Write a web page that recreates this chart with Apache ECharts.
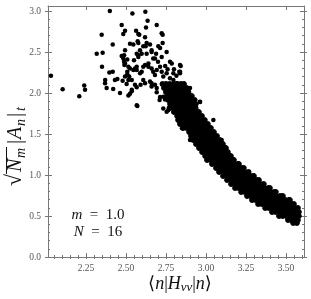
<!DOCTYPE html>
<html><head><meta charset="utf-8">
<script src="https://cdn.jsdelivr.net/npm/echarts@6/dist/echarts.min.js"></script>
<style>html,body{margin:0;padding:0;background:#fff}#c{width:311px;height:299px}</style>
</head><body><div id="c"></div>
<script>
// ---- axis ticks / labels ----
const xMajor = [2.25, 2.50, 2.75, 3.00, 3.25, 3.50];
const xMinor = [2.05,2.10,2.15,2.20,2.30,2.35,2.40,2.45,2.55,2.60,2.65,2.70,2.80,2.85,2.90,2.95,3.05,3.10,3.15,3.20,3.30,3.35,3.40,3.45,3.55,3.60];
const yMajor = [0.0, 0.5, 1.0, 1.5, 2.0, 2.5, 3.0];
const yMinor = [0.1,0.2,0.3,0.4,0.6,0.7,0.8,0.9,1.1,1.2,1.3,1.4,1.6,1.7,1.8,1.9,2.1,2.2,2.3,2.4,2.6,2.7,2.8,2.9];

// ---- scattered points (x, y) ----
const sparsePoints = [
[2.031,2.21],[2.104,2.045],[2.208,1.96],[2.239,2.09],[2.244,2.04],
[2.399,3.00],[2.348,2.71],[2.317,2.48],[2.354,2.49],[2.35,2.32],
[2.37,2.16],[2.369,2.12],[2.396,2.25],[2.417,2.26],[2.417,2.59],[2.42,2.05],[2.431,2.16],[2.446,2.17],[2.379,2.06],
[2.473,2.83],[2.494,2.76],[2.483,2.72],[2.525,2.60],[2.494,2.52],[2.488,2.46],[2.488,2.38],[2.49,2.34],[2.508,2.41],
[2.515,2.32],[2.525,2.30],[2.508,2.23],[2.494,2.20],[2.479,2.15],[2.504,2.11],[2.536,2.16],[2.525,1.99],[2.515,1.97],
[2.473,2.45],[2.508,2.26],[2.52,2.20],[2.4625,2.00],[2.536,2.04],
[2.54,2.97],[2.563,2.76],[2.573,2.63],[2.577,2.46],[2.567,2.28],[2.567,2.07],[2.556,2.10],[2.583,2.71],[2.567,1.85],
[2.621,2.99],[2.635,2.88],[2.692,2.83],[2.629,2.61],[2.623,2.57],[2.598,2.48],[2.66,2.52],[2.688,2.48],[2.64,2.32],
[2.681,2.42],[2.692,2.01],[2.66,2.12],[2.591,2.10],[2.588,2.24],[2.608,2.16],
[2.625,2.80],[2.577,2.72],[2.723,2.73],[2.729,2.71],[2.619,2.68],[2.577,2.61],[2.608,2.57],[2.65,2.59],[2.702,2.57],
[2.713,2.55],[2.729,2.61],[2.567,2.48],[2.577,2.44],[2.629,2.48],[2.66,2.50],[2.67,2.42],[2.723,2.44],[2.775,2.38],
[2.786,2.36],[2.842,2.33],[2.546,2.28],[2.556,2.30],[2.598,2.26],[2.608,2.32],[2.619,2.34],[2.64,2.36],[2.66,2.30],
[2.67,2.26],[2.681,2.22],[2.692,2.28],[2.713,2.32],[2.723,2.26],[2.733,2.20],[2.754,2.24],[2.775,2.18],[2.796,2.16],
[2.817,2.12],[2.838,2.10],[2.515,2.16],[2.619,2.12],[2.65,2.14],[2.66,2.08],[2.681,2.10],[2.692,2.06],[2.536,2.02],
[2.713,1.95],[2.744,1.92],[2.838,2.26],[2.90,2.06],[2.91,1.95],[2.963,1.89],[2.571,1.84],[2.733,1.81],[2.764,1.79],
[2.754,2.50],[2.833,2.26],[2.8375,2.34],[2.796,2.24],[2.8375,2.24],[2.86,1.58],[2.962,1.894],[3.046,1.67],
[3.098,1.427],[2.754,1.77],[2.796,1.77],[2.85,1.57],[2.90,1.427],[2.733,1.955],[2.71,1.915],[2.567,2.32],[2.55,2.40],
[2.546,2.59],[2.5875,2.52],[2.483,2.42],[2.494,2.36],[2.70,2.38],[2.745,2.33],[2.76,2.29],[2.80,2.29],[2.815,2.21]
];

// ---- dense band: one row per y value, x positions of the dots in that row ----
const bandY = [2.110,2.061,2.012,1.963,1.915,1.866,1.817,1.768,1.720,1.671,1.622,1.573,1.524,1.476,1.427,1.378,1.329,1.280,1.232,1.183,1.134,1.085,1.037,0.988,0.939,0.890,0.841,0.793,0.744,0.695,0.646,0.598,0.549,0.500,0.451,0.415];
const bandX = [
[2.728,2.750,2.773,2.798,2.820,2.843,2.862],
[2.738,2.762,2.785,2.808,2.831,2.855,2.879],
[2.750,2.773,2.796,2.819,2.842,2.866,2.890],
[2.757,2.780,2.803,2.826,2.849,2.872,2.895,2.911],
[2.764,2.788,2.811,2.834,2.857,2.880,2.904,2.929],
[2.776,2.799,2.822,2.845,2.868,2.891,2.914,2.936],
[2.772,2.796,2.820,2.843,2.866,2.889,2.912,2.935],
[2.801,2.824,2.847,2.870,2.893,2.916,2.939,2.955],
[2.820,2.843,2.866,2.889,2.912,2.935,2.958,2.974],
[2.826,2.849,2.872,2.895,2.918,2.941,2.964,2.992],
[2.838,2.861,2.884,2.907,2.930,2.953,2.976,2.999,3.011],
[2.857,2.880,2.903,2.926,2.949,2.972,2.995,3.018,3.030],
[2.895,2.918,2.941,2.964,2.987,3.010,3.033,3.049],
[2.907,2.930,2.953,2.976,2.999,3.022,3.045,3.068],
[2.920,2.943,2.966,2.989,3.012,3.035,3.058,3.086],
[2.938,2.961,2.984,3.007,3.030,3.053,3.076,3.099,3.105],
[2.957,2.980,3.003,3.026,3.049,3.072,3.095,3.118,3.124],
[2.976,2.999,3.022,3.045,3.068,3.091,3.114,3.136],
[2.995,3.018,3.041,3.064,3.087,3.110,3.133,3.155],
[3.007,3.030,3.053,3.076,3.099,3.122,3.145,3.168,3.174],
[3.038,3.061,3.084,3.107,3.130,3.153,3.176,3.199,3.205],
[3.063,3.086,3.109,3.132,3.155,3.178,3.201,3.224,3.236],
[3.082,3.105,3.128,3.151,3.174,3.197,3.220,3.243,3.266],
[3.107,3.130,3.153,3.176,3.199,3.222,3.245,3.268,3.291,3.299],
[3.132,3.155,3.178,3.201,3.224,3.247,3.270,3.293,3.316,3.330],
[3.157,3.180,3.203,3.226,3.249,3.272,3.295,3.318,3.341,3.361],
[3.182,3.205,3.228,3.251,3.274,3.297,3.320,3.343,3.366,3.389,3.399],
[3.220,3.243,3.266,3.289,3.312,3.335,3.358,3.381,3.404,3.427,3.436],
[3.257,3.280,3.303,3.326,3.349,3.372,3.395,3.418,3.441,3.464,3.480],
[3.288,3.311,3.334,3.357,3.380,3.403,3.426,3.449,3.472,3.495,3.518,3.524],
[3.326,3.349,3.372,3.395,3.418,3.441,3.464,3.487,3.510,3.533,3.549],
[3.370,3.393,3.416,3.439,3.462,3.485,3.508,3.531,3.554,3.574],
[3.413,3.436,3.459,3.482,3.505,3.528,3.551,3.574,3.580],
[3.457,3.480,3.503,3.526,3.549,3.572,3.580],
[3.513,3.536,3.559,3.574],
[3.545,3.568]
];

const bandPoints = [];
bandY.forEach((y, i) => bandX[i].forEach(x => bandPoints.push([x, y])));

const XMIN = 2.0125, XMAX = 3.6125, YMIN = 0, YMAX = 3.061;
const AX = '#777', LAB = '#555', INK = '#111';
const serif = '"Liberation Serif","DejaVu Serif",serif';

function xAx(pos, opts) {
  return Object.assign({type:'value', position:pos, min:XMIN, max:XMAX, splitLine:{show:false},
    axisLine:{show:false}, axisLabel:{show:false}, axisTick:{show:false}}, opts);
}
function yAx(pos, opts) {
  return Object.assign({type:'value', position:pos, min:YMIN, max:YMAX, splitLine:{show:false},
    axisLine:{show:false}, axisLabel:{show:false}, axisTick:{show:false}}, opts);
}
const line = {show:true, onZero:false, lineStyle:{color:AX, width:1}};
const tk = (vals, inside, len) => ({show:true, inside:inside, length:len, customValues:vals, lineStyle:{color:AX, width:1}});
const it = (t, x, y, size) => ({type:'text', x:x, y:y, style:{text:t, font:'italic '+size+'px '+serif, fill:INK, verticalAlign:'middle'}});
const dot = {color:'#000', opacity:1, borderWidth:1, borderColor:'#000'};
const dotS = {color:'#000', opacity:1, borderWidth:0};

const chart = echarts.init(document.getElementById('c'), null, {renderer:'canvas'});
chart.setOption({
  animation:false,
  backgroundColor:'#fff',
  grid:{left:48, right:7, top:6, bottom:42, containLabel:false},
  xAxis:[
    xAx('bottom', {axisLine:line, axisTick:tk(xMajor,true,4),
      axisLabel:{show:true, customValues:xMajor, formatter:v=>v.toFixed(2), color:LAB, fontFamily:serif, fontSize:9.5, margin:6}}),
    xAx('bottom', {axisTick:tk(xMajor,false,2)}),
    xAx('bottom', {axisTick:tk(xMinor,true,2)}),
    xAx('top', {axisLine:line, axisTick:tk(xMajor,true,4)}),
    xAx('top', {axisTick:tk(xMajor,false,2)}),
    xAx('top', {axisTick:tk(xMinor,true,2)})
  ],
  yAxis:[
    yAx('left', {axisLine:line, axisTick:tk(yMajor,true,4),
      axisLabel:{show:true, customValues:yMajor, formatter:v=>v.toFixed(1), color:LAB, fontFamily:serif, fontSize:9.5, margin:7}}),
    yAx('left', {axisTick:tk(yMajor,false,3)}),
    yAx('left', {axisTick:tk(yMinor,true,2)}),
    yAx('right', {axisLine:line, axisTick:tk(yMajor,true,4)}),
    yAx('right', {axisTick:tk(yMajor,false,3)}),
    yAx('right', {axisTick:tk(yMinor,true,2)})
  ],
  series:[
    {type:'scatter', xAxisIndex:0, yAxisIndex:0, data:bandPoints, symbol:'circle', symbolSize:5, itemStyle:dot, emphasis:{disabled:true}, silent:true},
    {type:'scatter', xAxisIndex:0, yAxisIndex:0, data:sparsePoints, symbol:'circle', symbolSize:4.5, itemStyle:dotS, emphasis:{disabled:true}, silent:true}
  ],
  graphic:[
    {type:'text', x:180, y:284, style:{
      text:'⟨{i|n}|{i|H}{s|νν}|{i|n}⟩', font:'18px '+serif, fill:INK, align:'center', verticalAlign:'middle',
      rich:{i:{fontStyle:'italic', fontSize:18, fontFamily:serif}, s:{fontStyle:'italic', fontSize:13, fontFamily:serif, padding:[8,0,0,0]}}}},
    {type:'group', x:16, y:139, rotation:Math.PI/2, children:[
      {type:'text', x:-47, y:-1, style:{text:'√', font:'22px '+serif, fill:INK, verticalAlign:'middle'}},
      {type:'line', shape:{x1:-35, y1:-9.5, x2:-8, y2:-9.5}, style:{stroke:INK, lineWidth:1}},
      it('N', -33, 0, 20),
      it('m', -19, 5, 14),
      it('|', -6, 0, 20),
      it('A', 0, 0, 20),
      it('n', 13, 5, 14),
      it('|', 21, 0, 20),
      it('t', 28, 5, 14)
    ]},
    {type:'text', x:98, y:215, style:{text:'{i|m}\u2002=\u20021.0', font:'15px '+serif, fill:INK, align:'center', verticalAlign:'middle',
      rich:{i:{fontStyle:'italic', fontSize:15, fontFamily:serif}}}},
    {type:'text', x:98, y:232, style:{text:'{i|N}\u2002=\u200216', font:'15px '+serif, fill:INK, align:'center', verticalAlign:'middle',
      rich:{i:{fontStyle:'italic', fontSize:15, fontFamily:serif}}}}
  ]
});
</script></body></html>
